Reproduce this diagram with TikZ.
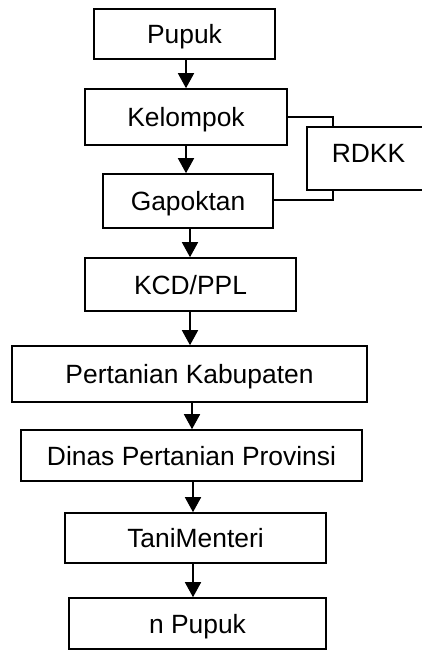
\documentclass[tikz,border=0pt]{standalone}
\usepackage{fontspec}
\setmainfont{Liberation Sans}
\usetikzlibrary{arrows.meta}
\begin{document}
\begin{tikzpicture}[x=1pt,y=-1pt,
  box/.style={draw=black,line width=1.6pt,rectangle,inner sep=0pt,
    text height=19pt,text depth=0pt,
    font=\fontsize{26.4}{30}\selectfont},
  arr/.style={line width=1.6pt,-{Triangle[length=15pt,width=16pt]}},
  link/.style={line width=1.6pt}]
\useasboundingbox (0,0) rectangle (422,650);
\node[box,minimum width=181pt,minimum height=50pt] (pupuk) at (184.5,34) {Pupuk};
\node[box,minimum width=202pt,minimum height=56pt] (kel) at (186,117) {Kelompok};
\node[box,minimum width=170pt,minimum height=54pt] (gap) at (188,201) {Gapoktan};
\node[box,minimum width=123pt,minimum height=63pt] (rdkk) at (368.5,158.5) {};
\node[font=\fontsize{26.4}{30}\selectfont,inner sep=0pt,text height=19pt,text depth=0pt] (rdkkt) at (368.5,153) {RDKK};
\node[box,minimum width=211pt,minimum height=53pt] (kcd) at (190.5,284.5) {KCD/PPL};
\node[box,minimum width=355pt,minimum height=56pt] (pert) at (189.5,374) {Pertanian Kabupaten};
\node[box,minimum width=341pt,minimum height=51pt] (dinas) at (191.5,455.5) {Dinas Pertanian Provinsi};
\node[box,minimum width=261pt,minimum height=50pt] (tani) at (195.5,538) {TaniMenteri};
\node[box,minimum width=257pt,minimum height=51pt] (npupuk) at (197.5,623.5) {n Pupuk};

\draw[arr] (pupuk.south -| 186,0) -- (kel.north -| 186,0);
\draw[arr] (kel.south -| 186,0) -- (gap.north -| 186,0);
\draw[arr] (gap.south -| 190,0) -- (kcd.north -| 190,0);
\draw[arr] (kcd.south -| 190,0) -- (pert.north -| 190,0);
\draw[arr] (pert.south -| 192,0) -- (dinas.north -| 192,0);
\draw[arr] (dinas.south -| 193,0) -- (tani.north -| 193,0);
\draw[arr] (tani.south -| 193,0) -- (npupuk.north -| 193,0);

\draw[link] (kel.east) -| ([xshift=27pt]rdkk.north west);
\draw[link] (gap.east |- 0,200) -| ([xshift=27pt]rdkk.south west);
\end{tikzpicture}
\end{document}
